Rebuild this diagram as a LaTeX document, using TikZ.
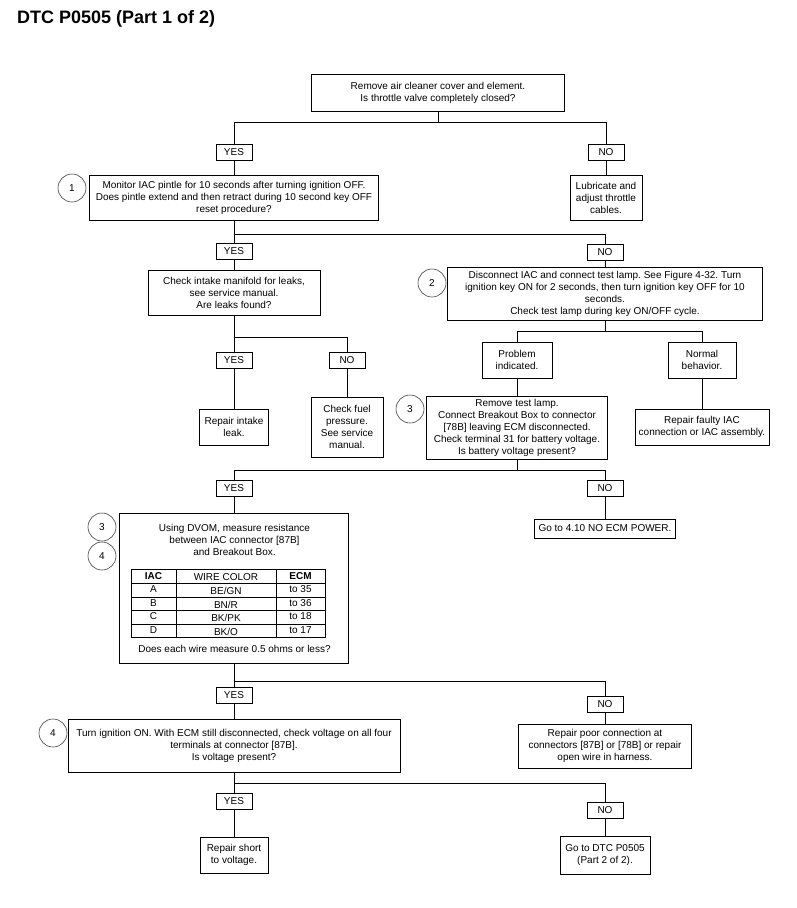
\documentclass[tikz,border=0pt]{standalone}
\usepackage{fontspec}
\setmainfont{Liberation Sans}
\frenchspacing
\begin{document}
\begin{tikzpicture}[x=1pt,y=-1pt,
  every node/.style={font=\fontsize{10}{12}\selectfont, inner sep=0pt},
  box/.style={draw, line width=0.9pt, align=center},
  lab/.style={draw, line width=0.9pt, minimum width=36pt, minimum height=16pt},
  num/.style={circle, draw=black!75, line width=0.6pt, minimum size=28pt},
  cell/.style={anchor=center},
  conn/.style={line width=0.9pt}]
\useasboundingbox (0,0) rectangle (797,908);

\node[anchor=west, font=\fontsize{18}{20}\selectfont\bfseries] (title) at (17,19) {DTC P0505 (Part 1 of 2)};

% level 0
\node[box, minimum width=253pt, minimum height=37pt] (top) at (438,92.5) {Remove air cleaner cover and element.\\Is throttle valve completely closed?};
\node[lab] (yes1) at (234,152) {YES};
\node[lab] (no1) at (606,152) {NO};
\coordinate (j1) at (438,122);
\draw[conn] (top.south) -- (j1) -| (yes1.north);
\draw[conn] (j1) -| (no1.north);

% level 1
\node[box, minimum width=289pt, minimum height=45pt] (b1) at (234,197.5) {Monitor IAC pintle for 10 seconds after turning ignition OFF.\\Does pintle extend and then retract during 10 second key OFF\\reset procedure?};
\node[num] (c1) at (72,188) {1};
\node[box, minimum width=72pt, minimum height=45pt] (lub) at (606,197.5) {Lubricate and\\adjust throttle\\cables.};
\draw[conn] (yes1) -- (b1);
\draw[conn] (no1) -- (lub);

\node[lab] (yes2) at (234,251.5) {YES};
\node[lab] (no2) at (605,252) {NO};
\coordinate (j2) at (234,234);
\draw[conn] (b1.south) -- (yes2.north);
\draw[conn] (j2) -| (no2.north);

% left branch
\node[box, minimum width=172pt, minimum height=45pt] (chk) at (234,292.5) {Check intake manifold for leaks,\\see service manual.\\Are leaks found?};
\draw[conn] (yes2) -- (chk);
\node[lab] (yes3) at (234,360) {YES};
\node[lab] (no3) at (347,360) {NO};
\coordinate (j3) at (234,337);
\draw[conn] (chk.south) -- (yes3.north);
\draw[conn] (j3) -| (no3.north);
\node[box, minimum width=69pt, minimum height=36pt] (rep1) at (234,427) {Repair intake\\leak.};
\node[box, minimum width=72pt, minimum height=60pt] (fuel) at (347,427) {Check fuel\\pressure.\\See service\\manual.};
\draw[conn] (yes3) -- (rep1);
\draw[conn] (no3) -- (fuel);

% right branch
\node[box, minimum width=315pt, minimum height=53pt] (b2) at (605,293.5) {Disconnect IAC and connect test lamp. See Figure 4-32. Turn\\ignition key ON for 2 seconds, then turn ignition key OFF for 10\\seconds.\\Check test lamp during key ON/OFF cycle.};
\node[num] (c2) at (432,283) {2};
\draw[conn] (no2) -- (b2);
\node[box, minimum width=70pt, minimum height=36pt] (prob) at (517,360) {Problem\\indicated.};
\node[box, minimum width=68pt, minimum height=36pt] (norm) at (702,360) {Normal\\behavior.};
\coordinate (j4) at (605,331);
\draw[conn] (b2.south) -- (j4) -| (prob.north);
\draw[conn] (j4) -| (norm.north);
\node[box, minimum width=181pt, minimum height=63pt] (b3) at (517,427.5) {Remove test lamp.\\Connect Breakout Box to connector\\{[78B]} leaving ECM disconnected.\\Check terminal 31 for battery voltage.\\Is battery voltage present?};
\node[num] (c3a) at (410,409) {3};
\node[box, minimum width=134pt, minimum height=36pt] (rep2) at (702,427) {Repair faulty IAC\\connection or IAC assembly.};
\draw[conn] (prob) -- (b3);
\draw[conn] (norm) -- (rep2);

\node[lab] (yes4) at (234,488) {YES};
\node[lab] (no4) at (605,488.5) {NO};
\coordinate (j5) at (517,470);
\draw[conn] (b3.south) -- (j5) -| (yes4.north);
\draw[conn] (j5) -| (no4.north);
\node[box, minimum width=141pt, minimum height=19pt] (ecm) at (605,528.5) {Go to 4.10 NO ECM POWER.};
\draw[conn] (no4) -- (ecm);

% DVOM box
\node[box, minimum width=229pt, minimum height=150pt] (dv) at (234,588) {};
\node[num] (c3b) at (102,527) {3};
\node[num] (c4a) at (102,556) {4};
\draw[conn] (yes4) -- (dv);
\node[align=center] (dvt) at (234.5,540) {Using DVOM, measure resistance\\between IAC connector [87B]\\and Breakout Box.};
\draw[line width=0.9pt] (131,569) rectangle (325,637);
\draw[line width=0.9pt] (176,569) -- (176,637) (276,569) -- (276,637);
\draw[line width=0.9pt] (131,583) -- (325,583) (131,597) -- (325,597) (131,610) -- (325,610) (131,624) -- (325,624);
\node[cell, font=\fontsize{10}{12}\selectfont\bfseries] (h1) at (153.5,576) {IAC};
\node[cell] (h2) at (226,577) {WIRE COLOR};
\node[cell, font=\fontsize{10}{12}\selectfont\bfseries] (h3) at (300.5,576) {ECM};
\node[cell] (r1a) at (153.5,589.5) {A};
\node[cell] (r1b) at (226,591) {BE/GN};
\node[cell] (r1c) at (300.5,589.5) {to 35};
\node[cell] (r2a) at (153.5,603) {B};
\node[cell] (r2b) at (226,604.5) {BN/R};
\node[cell] (r2c) at (300.5,603) {to 36};
\node[cell] (r3a) at (153.5,616.5) {C};
\node[cell] (r3b) at (226,618) {BK/PK};
\node[cell] (r3c) at (300.5,616.5) {to 18};
\node[cell] (r4a) at (153.5,630) {D};
\node[cell] (r4b) at (226,631.5) {BK/O};
\node[cell] (r4c) at (300.5,630) {to 17};
\node (dvq) at (234.5,649) {Does each wire measure 0.5 ohms or less?};

\node[lab] (yes5) at (234,695) {YES};
\node[lab] (no5) at (605,704.5) {NO};
\coordinate (j6) at (234,681);
\draw[conn] (dv.south) -- (yes5.north);
\draw[conn] (j6) -| (no5.north);

\node[box, minimum width=332pt, minimum height=53pt] (b4) at (234,745.5) {Turn ignition ON. With ECM still disconnected, check voltage on all four\\terminals at connector [87B].\\Is voltage present?};
\node[num] (c4b) at (53,733) {4};
\node[box, minimum width=173pt, minimum height=44pt] (rep3) at (605,746) {Repair poor connection at\\connectors [87B] or [78B] or repair\\open wire in harness.};
\draw[conn] (yes5) -- (b4);
\draw[conn] (no5) -- (rep3);

\node[lab] (yes6) at (234,801.5) {YES};
\node[lab] (no6) at (605,810) {NO};
\coordinate (j7) at (234,783);
\draw[conn] (b4.south) -- (yes6.north);
\draw[conn] (j7) -| (no6.north);
\node[box, minimum width=68pt, minimum height=36pt] (rep4) at (234,855) {Repair short\\to voltage.};
\node[box, minimum width=90pt, minimum height=38pt] (p2) at (605,855) {Go to DTC P0505\\(Part 2 of 2).};
\draw[conn] (yes6) -- (rep4);
\draw[conn] (no6) -- (p2);
\end{tikzpicture}
\end{document}
